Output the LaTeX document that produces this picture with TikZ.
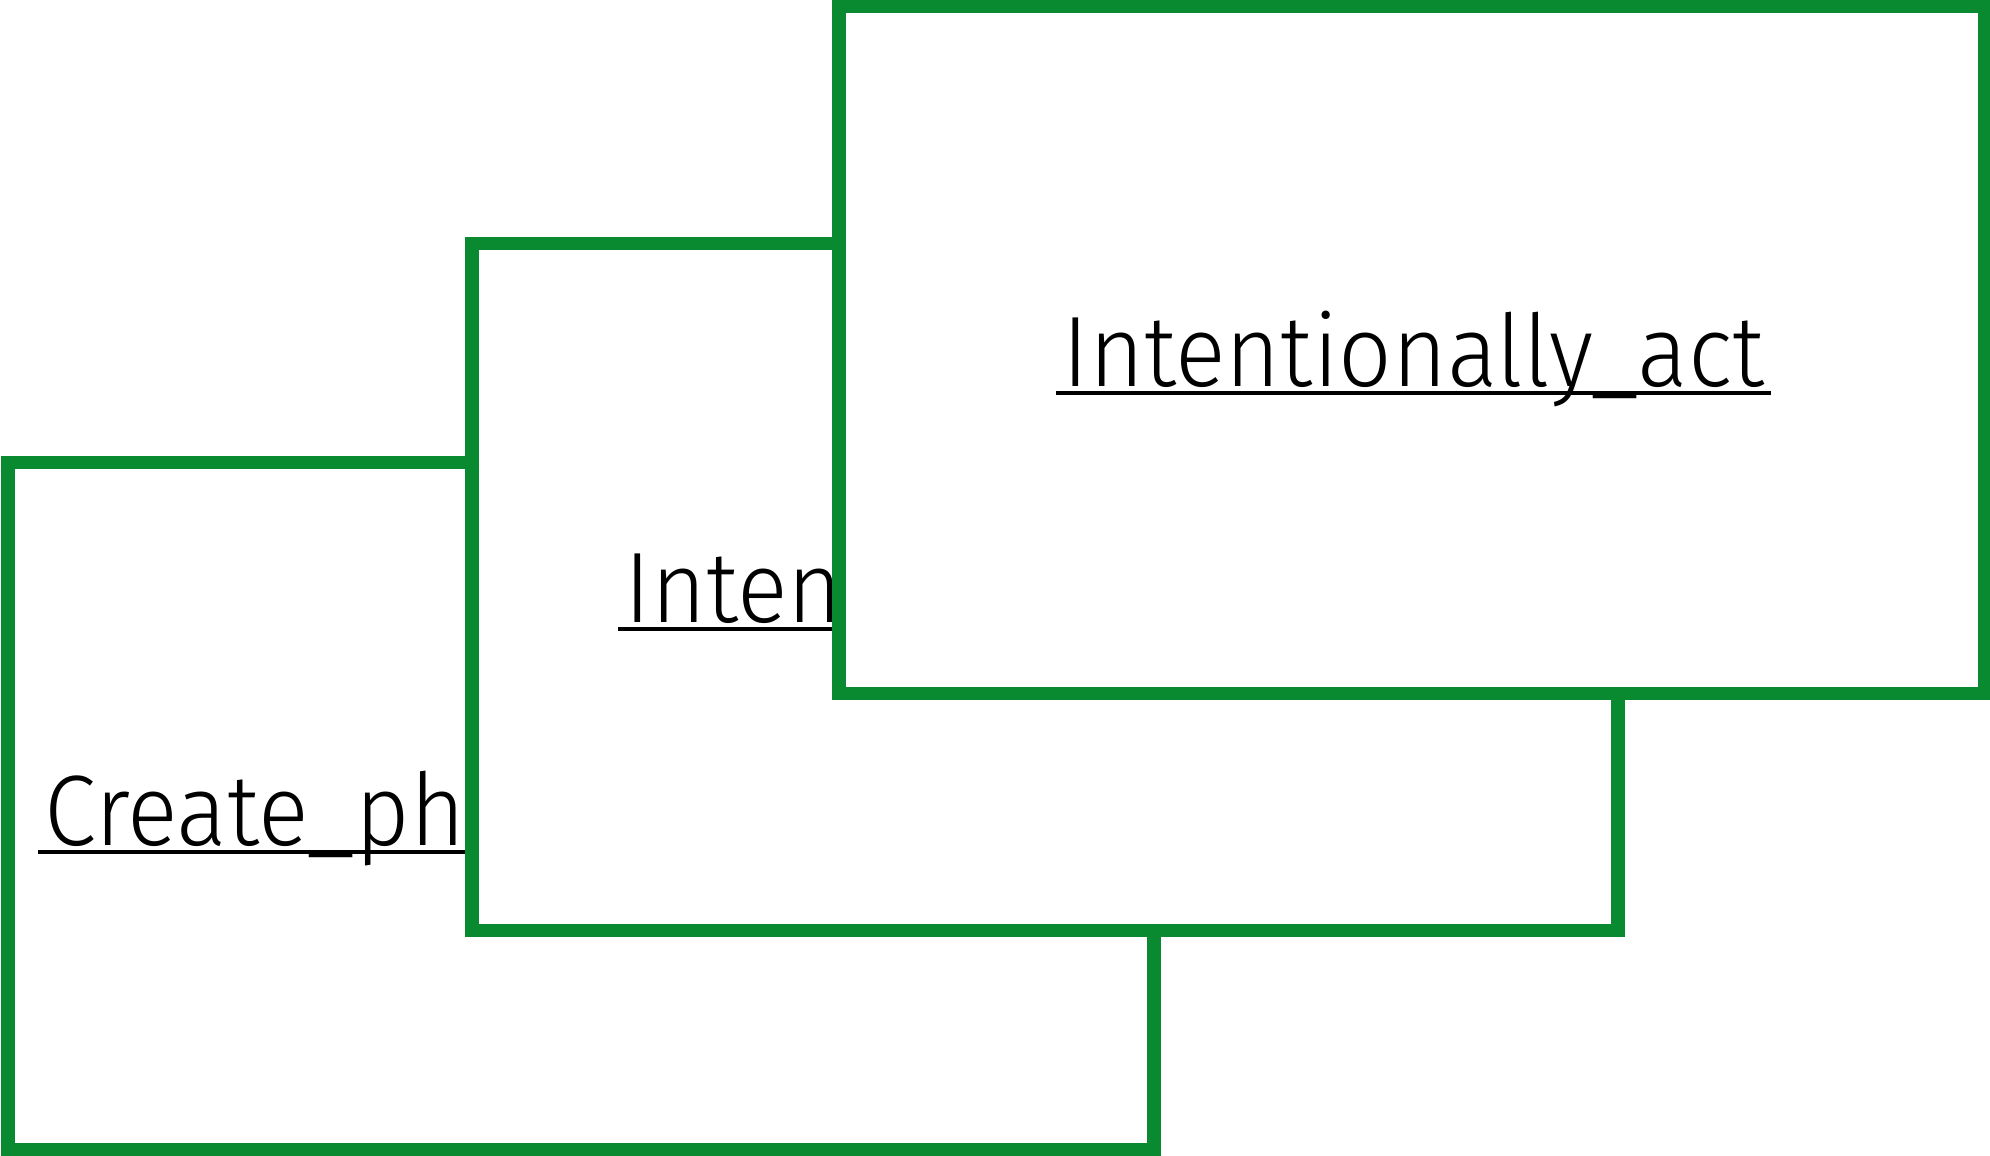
\documentclass[tikz,border=0pt]{standalone}
\usepackage{fontspec}
\usepackage{graphicx}
\setmainfont{Fira Sans}[UprightFont=* Light]
\usetikzlibrary{calc}
\definecolor{cardgreen}{RGB}{9,137,48}
\newcommand{\narrowtxt}[1]{\scalebox{0.94}[1]{#1}}

\begin{document}
\begin{tikzpicture}[line width=3.9pt,
  card/.style={draw=cardgreen, fill=white, minimum width=11.46cm, minimum height=6.87cm, inner sep=0pt},
  lbl/.style={inner sep=0pt, font=\fontsize{28.5}{34}\selectfont},
  uline/.style={draw=black, line width=1.4pt}]
  \useasboundingbox (0,0) rectangle (19.90,11.56);
  % hinterste karte
  \node[card] (create) at (5.81,3.50) {};
  \node[lbl, anchor=base west] (crph) at (0.38,3.10) {\narrowtxt{Create\_ph}};
  \draw[uline] ([yshift=-0.6mm]crph.base west) -- ([yshift=-0.6mm]crph.base west -| 5.2,0);
  % mittlere karte
  \node[card] (intent) at (10.45,5.69) {};
  \node[lbl, anchor=base west] (inten) at (6.18,5.33) {\narrowtxt{Inten}};
  \draw[uline] ([yshift=-0.6mm]inten.base west) -- ([yshift=-0.6mm]inten.base west -| 9.0,0);
  % vorderste karte
  \node[card] (act) at (14.12,8.06) {};
  \node[lbl, anchor=base] (actlbl) at (14.135,7.69) {\narrowtxt{Intentionally\_act}};
  \draw[uline] ([yshift=-0.6mm]actlbl.base west) -- ([yshift=-0.6mm]actlbl.base east);
\end{tikzpicture}
\end{document}
